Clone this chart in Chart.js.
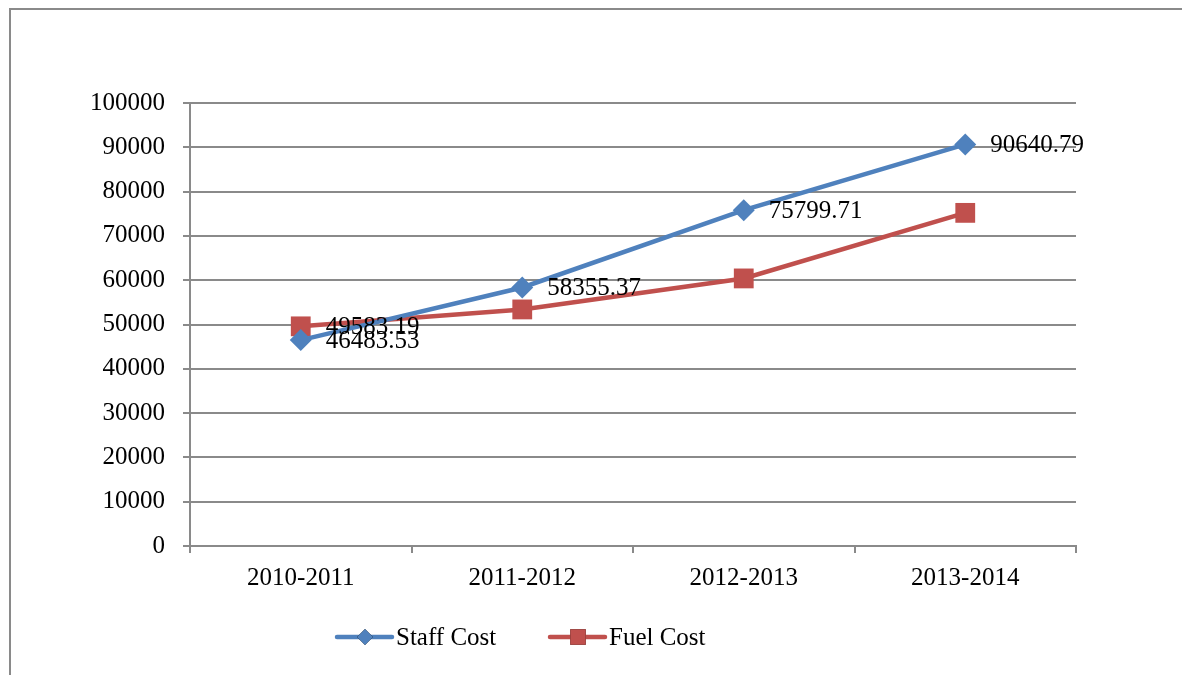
<!DOCTYPE html>
<html lang="en">
<head>
<meta charset="UTF-8">
<title>Staff Cost vs Fuel Cost</title>
<script src="https://cdn.jsdelivr.net/npm/chart.js"></script>
<style>
    body { margin: 0; background: #fff; }
    .frame {
        position: absolute; left: 9px; top: 8px; width: 1300px; height: 800px;
        border-top: 2px solid #8a8a8a; border-left: 2px solid #8a8a8a;
    }
    #grafico { position: absolute; left: 0; top: 0; }
</style>
</head>
<body>
<div class="frame"></div>
<canvas id="grafico" width="1182" height="675"></canvas>

<script>
    // dados
    var anos = ['2010-2011', '2011-2012', '2012-2013', '2013-2014'];
    var staffCost = [46483.53, 58355.37, 75799.71, 90640.79];
    var fuelCost = [49583.19, 53400, 60400, 75200];
    // rótulos de dados (só aparecem onde o original mostra)
    var staffRotulos = ['46483.53', '58355.37', '75799.71', '90640.79'];
    var fuelRotulos = ['49583.19', null, null, null];
    var yMax = 100000;
    var yPasso = 10000;

    var azul = '#4F81BD';
    var vermelho = '#C0504D';
    var cinza = '#8a8a8a';
    var fonte = '"Liberation Serif", "DejaVu Serif", serif';

    // desenha os valores ao lado dos pontos
    var rotulosPlugin = {
        id: 'rotulos',
        afterDatasetsDraw: function (chart) {
            var ctx = chart.ctx;
            ctx.save();
            ctx.font = '25px ' + fonte;
            ctx.fillStyle = '#000';
            ctx.textAlign = 'left';
            ctx.textBaseline = 'middle';
            chart.data.datasets.forEach(function (ds, i) {
                var meta = chart.getDatasetMeta(i);
                meta.data.forEach(function (pt, j) {
                    var txt = ds.rotulos[j];
                    if (txt) ctx.fillText(txt, pt.x + 25, pt.y + 1);
                });
            });
            ctx.restore();
        }
    };

    // legenda no estilo do Excel (linha + marcador)
    var legendaPlugin = {
        id: 'legenda',
        afterDraw: function (chart) {
            var ctx = chart.ctx;
            var y = 637;
            var itens = [{ x: 337 }, { x: 550 }];
            ctx.save();
            chart.data.datasets.forEach(function (ds, i) {
                var x0 = itens[i].x;
                ctx.strokeStyle = ds.borderColor;
                ctx.lineWidth = 4.5;
                ctx.lineCap = 'round';
                ctx.beginPath();
                ctx.moveTo(x0, y);
                ctx.lineTo(x0 + 55, y);
                ctx.stroke();
                Chart.helpers.drawPoint(ctx, {
                    pointStyle: ds.pointStyle,
                    radius: i === 0 ? 8 : 11,
                    borderWidth: 0
                }, x0 + 28, y);
                ctx.fillStyle = ds.backgroundColor;
                ctx.fill();
                ctx.fillStyle = '#000';
                ctx.font = '25px ' + fonte;
                ctx.textAlign = 'left';
                ctx.textBaseline = 'middle';
                ctx.fillText(ds.label, x0 + 59, y + 1);
            });
            ctx.restore();
        }
    };

    var grafico = new Chart(document.getElementById('grafico'), {
        type: 'line',
        data: {
            labels: anos,
            datasets: [{
                label: 'Staff Cost',
                data: staffCost,
                rotulos: staffRotulos,
                borderColor: azul,
                backgroundColor: azul,
                borderWidth: 4.5,
                pointStyle: 'rectRot',
                pointRadius: 11,
                pointHoverRadius: 11,
                pointBorderWidth: 0,
                tension: 0
            }, {
                label: 'Fuel Cost',
                data: fuelCost,
                rotulos: fuelRotulos,
                borderColor: vermelho,
                backgroundColor: vermelho,
                borderWidth: 4.5,
                pointStyle: 'rect',
                pointRadius: 14,
                pointHoverRadius: 14,
                pointBorderWidth: 0,
                tension: 0
            }]
        },
        options: {
            responsive: false,
            animation: false,
            devicePixelRatio: 1,
            layout: { padding: { left: 0, right: 106, top: 103, bottom: 69 } },
            plugins: {
                legend: { display: false },
                tooltip: { enabled: false }
            },
            scales: {
                x: {
                    offset: true,
                    afterFit: function (s) { s.height = 60; },
                    grid: {
                        offset: true,
                        drawOnChartArea: false,
                        color: cinza,
                        lineWidth: 2,
                        tickLength: 7
                    },
                    border: { color: cinza, width: 2 },
                    ticks: {
                        color: '#000',
                        font: { family: fonte, size: 25 },
                        padding: 10
                    }
                },
                y: {
                    min: 0,
                    max: yMax,
                    afterFit: function (s) { s.width = 190; },
                    grid: { color: cinza, lineWidth: 2, tickLength: 7 },
                    border: { color: cinza, width: 2 },
                    ticks: {
                        stepSize: yPasso,
                        color: '#000',
                        font: { family: fonte, size: 25 },
                        padding: 18,
                        callback: function (v) { return String(v); }
                    }
                }
            }
        },
        plugins: [rotulosPlugin, legendaPlugin]
    });
</script>
</body>
</html>
